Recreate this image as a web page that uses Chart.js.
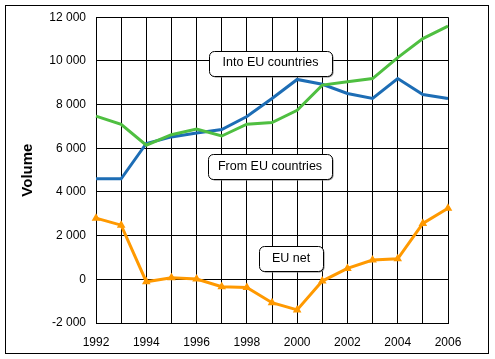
<!DOCTYPE html>
<html>
<head>
<meta charset="utf-8">
<script src="https://cdn.jsdelivr.net/npm/chart.js@4"></script>
<style>
  html, body { margin: 0; padding: 0; background: #fff; }
  #wrap { width: 495px; height: 359px; }
</style>
</head>
<body>
<div id="wrap"><canvas id="chart_eu"></canvas></div>
<script>
const years = ['1992', '1993', '1994', '1995', '1996', '1997', '1998', '1999', '2000', '2001', '2002', '2003', '2004', '2005', '2006']
const into_eu = [7470, 7090, 6140, 6620, 6880, 6560, 7100, 7180, 7740, 8890, 9040, 9190, 10150, 11020, 11590]
const from_eu = [4600, 4600, 6220, 6520, 6700, 6860, 7450, 8280, 9150, 8930, 8510, 8280, 9190, 8460, 8280]
const eu_net = [2800, 2480, -110, 75, 15, -340, -370, -1070, -1400, -80, 500, 880, 940, 2560, 3250]

// text boxes: [text, centre x, centre y, width]
const boxes = [
    ['Into EU countries', 270.5, 63, 123],
    ['From EU countries', 270, 166.5, 124],
    ['EU net', 291, 258.5, 64]
]

const fmt = (v) => v.toLocaleString('en').replace(/,/g, ' ')

const framePlugin = {
    id: 'frame',
    beforeDraw(chart) {
        const ctx = chart.ctx
        ctx.save()
        ctx.fillStyle = '#ffffff'
        ctx.fillRect(0, 0, chart.width, chart.height)
        ctx.strokeStyle = '#000000'
        ctx.lineWidth = 1
        ctx.strokeRect(5.5, 5.5, 483, 348)
        ctx.restore()
    },
    beforeDatasetsDraw(chart) {
        const ctx = chart.ctx
        ctx.save()
        ctx.font = '12.5px "Liberation Sans", Arial, sans-serif'
        ctx.textAlign = 'center'
        ctx.textBaseline = 'middle'
        boxes.forEach(([text, cx, cy, w]) => {
            const h = 25
            const x = Math.round(cx - w / 2) + 0.5
            const y = Math.round(cy - h / 2) + 0.5
            ctx.fillStyle = '#808080'
            ctx.beginPath()
            ctx.roundRect(x + 1, y + 1, w, h, 5)
            ctx.fill()
            ctx.fillStyle = '#ffffff'
            ctx.strokeStyle = '#000000'
            ctx.lineWidth = 1
            ctx.beginPath()
            ctx.roundRect(x, y, w, h, 5)
            ctx.fill()
            ctx.stroke()
            ctx.fillStyle = '#000000'
            ctx.fillText(text, cx, cy)
        })
        ctx.restore()
    }
}

new Chart(document.getElementById('chart_eu'), {
    type: 'line',
    data: {
        labels: years,
        datasets: [
            {
                data: into_eu,
                borderColor: '#4fbf41',
                borderWidth: 3,
                pointRadius: 0,
                tension: 0
            },
            {
                data: from_eu,
                borderColor: '#1d6db5',
                borderWidth: 3,
                pointRadius: 0,
                tension: 0
            },
            {
                data: eu_net,
                borderColor: '#ff9900',
                backgroundColor: '#ff9900',
                borderWidth: 3,
                pointStyle: 'triangle',
                pointRadius: 3.5,
                pointBorderWidth: 1.5,
                tension: 0
            }
        ]
    },
    options: {
        responsive: true,
        maintainAspectRatio: false,
        animation: false,
        events: [],
        layout: {
            padding: { left: 0, top: 17, right: 47, bottom: 0 }
        },
        plugins: {
            legend: { display: false },
            tooltip: { enabled: false }
        },
        scales: {
            x: {
                offset: false,
                afterFit: (scale) => { scale.height = 36 },
                grid: {
                    color: '#000000',
                    drawTicks: false
                },
                border: { color: '#000000' },
                ticks: {
                    autoSkip: false,
                    maxRotation: 0,
                    padding: 12,
                    color: '#000000',
                    font: { family: '"Liberation Sans", Arial, sans-serif', size: 12 },
                    callback: (val, i) => i % 2 === 0 ? years[i] : ''
                }
            },
            y: {
                min: -2000,
                max: 12000,
                afterFit: (scale) => { scale.width = 96 },
                grid: {
                    color: '#000000',
                    drawTicks: false
                },
                border: { color: '#000000' },
                ticks: {
                    stepSize: 2000,
                    padding: 10,
                    color: '#000000',
                    font: { family: '"Liberation Sans", Arial, sans-serif', size: 12 },
                    callback: (v) => fmt(v)
                },
                title: {
                    display: true,
                    text: 'Volume',
                    color: '#000000',
                    padding: { top: 19, bottom: 0 },
                    font: { family: '"Liberation Sans", Arial, sans-serif', size: 15, weight: 'bold' }
                }
            }
        }
    },
    plugins: [framePlugin]
});
</script>
</body>
</html>
